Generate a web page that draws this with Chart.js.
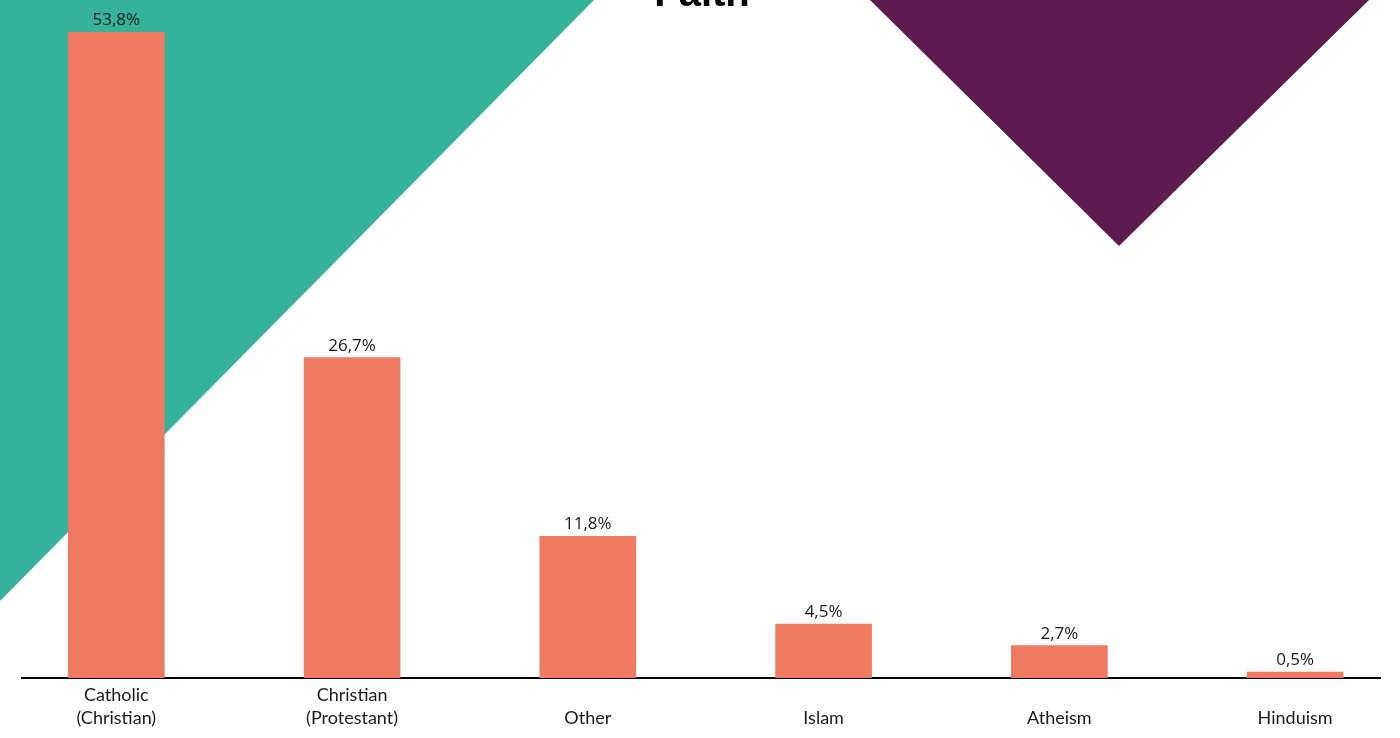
<!DOCTYPE html>
<html>
<head>
<meta charset="utf-8">
<title>Faith</title>
<script src="https://cdn.jsdelivr.net/npm/chart.js@4/dist/chart.umd.min.js"></script>
<style>
  html, body { margin: 0; padding: 0; background: #ffffff; overflow: hidden; }
  #wrap { position: relative; width: 1400px; height: 738px; }
</style>
</head>
<body>
<div id="wrap"><canvas id="chart" width="1400" height="738"></canvas></div>
<script>
// Religious affiliation shares (%)
const categories = [
  ['Catholic', '(Christian)'],
  ['Christian', '(Protestant)'],
  ['', 'Other'],
  ['', 'Islam'],
  ['', 'Atheism'],
  ['', 'Hinduism']
];
const shares = [53.8, 26.7, 11.8, 4.5, 2.7, 0.5];
const shareLabels = ['53,8%', '26,7%', '11,8%', '4,5%', '2,7%', '0,5%'];
const chartTitle = 'Faith';

const BAR_COLOR = '#EF7A61';
const TEAL = '#34B39A';
const PURPLE = '#5C1C51';

// Decorative background shapes and the heading
const backdrop = {
  id: 'backdrop',
  beforeDraw(chart) {
    const ctx = chart.ctx;
    ctx.save();
    ctx.fillStyle = TEAL;
    ctx.beginPath();
    ctx.moveTo(0, 0);
    ctx.lineTo(594, 0);
    ctx.lineTo(0, 601);
    ctx.closePath();
    ctx.fill();

    ctx.fillStyle = PURPLE;
    ctx.beginPath();
    ctx.moveTo(870, 0);
    ctx.lineTo(1369, 0);
    ctx.lineTo(1119, 246);
    ctx.closePath();
    ctx.fill();

    ctx.fillStyle = '#000000';
    ctx.font = 'bold 40px "Liberation Sans", Arial, sans-serif';
    ctx.textAlign = 'center';
    ctx.textBaseline = 'alphabetic';
    ctx.fillText(chartTitle, 702, 6);
    ctx.restore();
  }
};

// Value labels above each bar
const valueLabels = {
  id: 'valueLabels',
  afterDatasetsDraw(chart) {
    const ctx = chart.ctx;
    const meta = chart.getDatasetMeta(0);
    ctx.save();
    ctx.fillStyle = '#1a1a1a';
    ctx.font = '17px "Open Sans", sans-serif';
    ctx.textAlign = 'center';
    ctx.textBaseline = 'alphabetic';
    meta.data.forEach((bar, i) => {
      ctx.fillText(shareLabels[i], bar.x, bar.y - 7);
    });
    ctx.restore();
  }
};

new Chart(document.getElementById('chart'), {
  type: 'bar',
  data: {
    datasets: [{
      data: shares.map((v, i) => ({ x: i, y: v })),
      backgroundColor: BAR_COLOR,
      borderWidth: 0,
      barThickness: 96
    }]
  },
  options: {
    responsive: false,
    animation: false,
    events: [],
    layout: { padding: { left: 22, right: 20, top: 0, bottom: 3 } },
    plugins: {
      legend: { display: false },
      tooltip: { enabled: false },
      title: { display: false }
    },
    scales: {
      x: {
        type: 'linear',
        offset: false,
        min: -0.4,
        max: 5.36,
        // one tick per category
        afterBuildTicks: (scale) => {
          scale.ticks = categories.map((_, i) => ({ value: i }));
        },
        grid: { display: false, drawTicks: false },
        border: { display: true, color: '#000000', width: 2 },
        ticks: {
          autoSkip: false,
          maxRotation: 0,
          padding: 6,
          color: '#1a1a1a',
          font: { family: 'Lato, "Open Sans", sans-serif', size: 18, lineHeight: 1.25 },
          callback: (value) => categories[Math.round(value)] || ''
        }
      },
      y: {
        display: false,
        min: 0,
        max: 56.5
      }
    }
  },
  plugins: [backdrop, valueLabels]
});
</script>
</body>
</html>
